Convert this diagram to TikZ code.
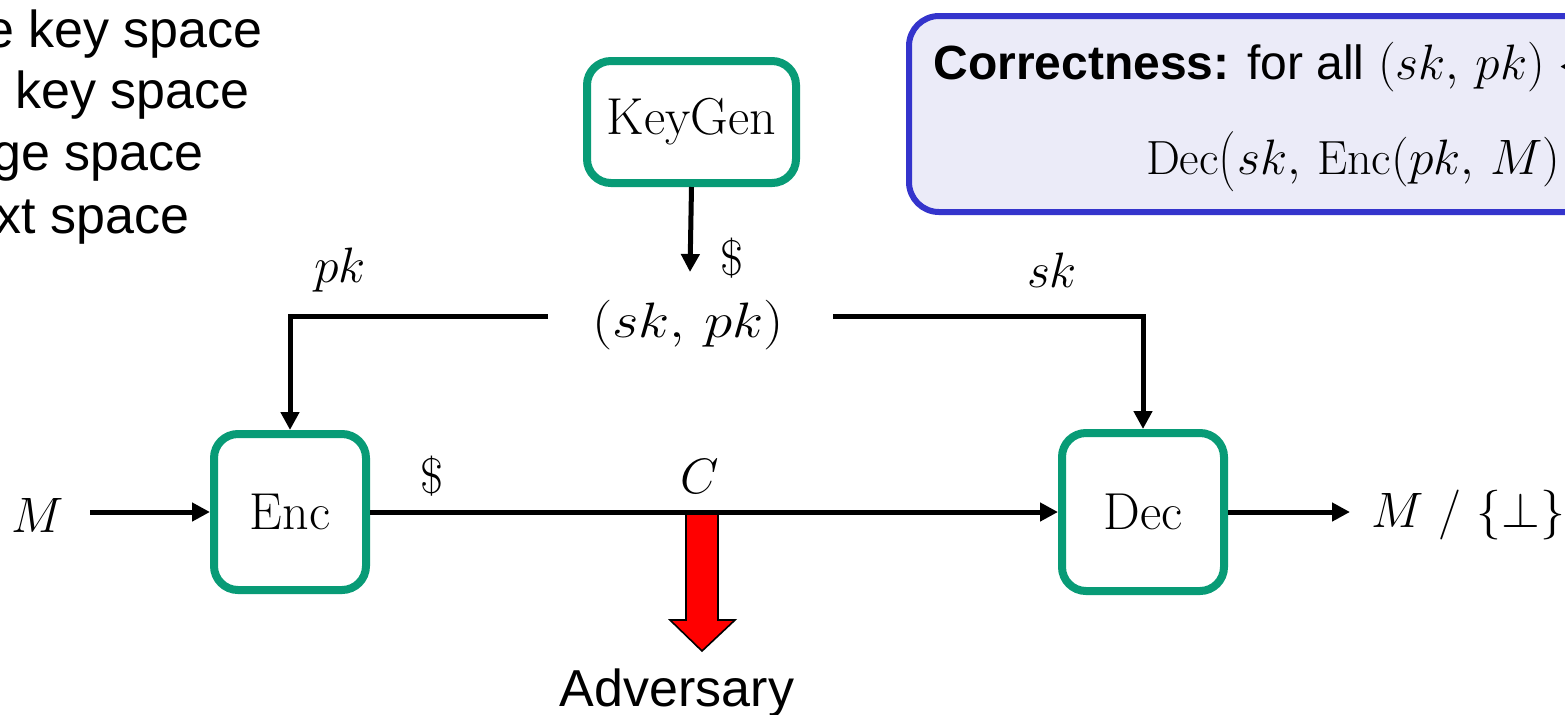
\documentclass[tikz,border=0pt]{standalone}
\usepackage{graphicx}
\usepackage{fontspec}
\newfontfamily\arial{Liberation Sans}
\usetikzlibrary{arrows.meta}
\definecolor{kgreen}{RGB}{8,155,118}
\definecolor{kblue}{RGB}{52,52,204}
\definecolor{klav}{RGB}{235,235,248}
\begin{document}
\begin{tikzpicture}[x=0.5pt,y=-0.5pt,
  alg/.style={draw=kgreen,line width=4pt,rounded corners=12pt,inner sep=0pt,font=\fontsize{26}{30}\selectfont},
  lbl/.style={inner sep=0pt,font=\fontsize{25}{30}\selectfont},
  sans/.style={inner sep=0pt,font=\arial\fontsize{26}{31}\selectfont},
  conn/.style={line width=2.5pt,-{Triangle[length=9pt,width=9pt]}},
  corrbox/.style={draw=kblue,fill=klav,line width=3pt,rounded corners=15pt,inner sep=0pt}]
\clip (0,0) rectangle (1565,714);
\fill[white] (0,0) rectangle (1565,714);

% top-left list (cut off at the left edge as in the reference)
\node[sans,anchor=base east] (t1) at (263,47) {e key space};
\node[sans,anchor=base east] (t2) at (250,108) {key space};
\node[sans,anchor=base east] (t3) at (204,170) {ge space};
\node[sans,anchor=base east] (t4) at (190,233) {xt space};

% correctness box
\node[corrbox,anchor=north west,minimum width=360pt,minimum height=98pt] (corr) at (906,13) {};
\node[anchor=base west,inner sep=0pt,font=\arial\fontsize{24}{29}\selectfont] (c1) at (933,79)
  {\textbf{Correctness:} for all $(sk,\,pk)\leftarrow$};
\node[anchor=base east,inner sep=0pt,font=\fontsize{24}{29}\selectfont] (c2) at (1561,174)
  {$\mathrm{Dec}{\left(\rule[-9pt]{0pt}{30pt}\right.}sk,\,\mathrm{Enc}(pk,\,M)$};

% algorithm boxes
\node[alg,minimum width=104.5pt,minimum height=61pt] (kg) at (691.5,122) {KeyGen};
\node[lbl] (keys) at (688,325) {\scalebox{1.15}[1]{$(sk,\,pk)$}};
\node[alg,minimum width=76pt,minimum height=78pt] (enc) at (290,512) {Enc};
\node[alg,minimum width=81pt,minimum height=79pt] (dec) at (1143,512) {Dec};
\node[lbl] (m) at (38,515) {$M$};
\node[lbl] (out) at (1468,515) {$M$ / $\{\perp\}$};

% labels
\node[lbl] (dk) at (732,258) {\$};
\node[lbl] (lpk) at (340,270) {$pk$};
\node[lbl] (lsk) at (1052,270) {$sk$};
\node[lbl] (de) at (432,476) {\$};
\node[lbl] (lc) at (700,476) {$C$};

% coordinates for free ends
\coordinate (kl) at (548,316);
\coordinate (kr) at (833,316);
\coordinate (kt) at (690,272);
\coordinate (ms) at (90,512);
\coordinate (oe) at (1350,512);

% red adversary arrow
\draw[fill=red,line width=0.8pt] (686,514) -- (686,620) -- (670,620) -- (702,651) -- (735,620) -- (718,620) -- (718,514) -- cycle;
\node[sans,anchor=base] (adv) at (677,706) {Adversary};

% connectors
\draw[conn] (kg.south) -- (kt);
\draw[conn] (kl) -| (enc.north);
\draw[conn] (kr) -| (dec.north);
\draw[conn] (ms) -- (enc.west);
\draw[conn] (enc.east) -- (dec.west);
\draw[conn] (dec.east) -- (oe);
\end{tikzpicture}
\end{document}
